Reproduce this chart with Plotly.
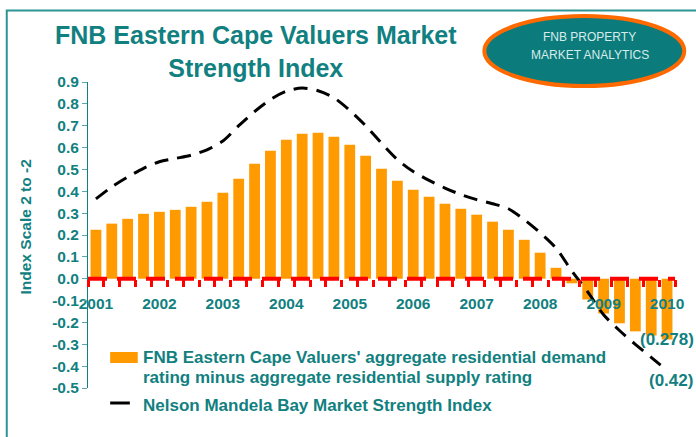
import plotly.graph_objects as go

# ---------------- data ----------------
years = ["2001", "2002", "2003", "2004", "2005", "2006", "2007", "2008", "2009", "2010"]
quarters = list(range(37))  # 2001Q1 .. 2010Q1
valuers_rating = [0.224, 0.252, 0.274, 0.297, 0.306, 0.315, 0.329, 0.352, 0.393, 0.457,
                  0.526, 0.585, 0.636, 0.663, 0.668, 0.650, 0.613, 0.563, 0.503, 0.448,
                  0.407, 0.375, 0.343, 0.320, 0.293, 0.261, 0.224, 0.178, 0.119, 0.050,
                  -0.021, -0.095, -0.159, -0.204, -0.241, -0.260, -0.278]
nmb_index = [0.365, 0.42, 0.465, 0.505, 0.535, 0.55, 0.565, 0.59, 0.63, 0.70,
             0.765, 0.82, 0.858, 0.872, 0.86, 0.828, 0.77, 0.70, 0.62, 0.545,
             0.49, 0.45, 0.415, 0.385, 0.362, 0.343, 0.32, 0.27, 0.21, 0.14,
             0.035, -0.06, -0.165, -0.237, -0.30, -0.36, -0.42]
yticks = [-0.5, -0.4, -0.3, -0.2, -0.1, 0.0, 0.1, 0.2, 0.3, 0.4, 0.5, 0.6, 0.7, 0.8, 0.9]
bar_name = "FNB Eastern Cape Valuers' aggregate residential demand rating minus aggregate residential supply rating"
line_name = "Nelson Mandela Bay Market Strength Index"

# ---------------- style ----------------
W, H = 696, 437
ML, MR, MT, MB = 87.5, 12.4, 82, 49
PW, PH = W - ML - MR, H - MT - MB
TEAL = "#118080"
ORANGE = "#ff9a00"
FONT = "Liberation Sans, Arial, sans-serif"


def px(x):
    return (x - ML) / PW


def py(y):
    return (H - MB - y) / PH


fig = go.Figure()
fig.add_trace(go.Bar(x=quarters, y=valuers_rating, name=bar_name, marker_color=ORANGE,
                     marker_line_width=0, width=0.68, showlegend=False))
fig.add_trace(go.Scatter(x=quarters, y=nmb_index, name=line_name, mode="lines",
                         line=dict(color="black", width=3, dash="14px,9px", shape="spline", smoothing=0.8),
                         showlegend=False))

shapes = []
# outer frame
shapes.append(dict(type="rect", xref="paper", yref="paper", x0=px(5), x1=px(730), y0=py(470), y1=py(10.5),
                   line=dict(color="#2f9494", width=2), fillcolor="rgba(0,0,0,0)", layer="below"))
# red zero axis
shapes.append(dict(type="line", xref="x", yref="y", x0=-0.5, x1=36.5, y0=0, y1=0,
                   line=dict(color="#ff0000", width=4, dash="19px,10px"), layer="above"))
# ellipse logo
shapes.append(dict(type="circle", xref="paper", yref="paper", x0=px(490), x1=px(693), y0=py(86), y1=py(16),
                   fillcolor="#0b7b7b", line=dict(color="#ff6a00", width=4)))
# legend swatches
shapes.append(dict(type="rect", xref="paper", yref="paper", x0=px(110), x1=px(138), y0=py(363), y1=py(352),
                   fillcolor=ORANGE, line=dict(width=0)))
shapes.append(dict(type="line", xref="paper", yref="paper", x0=px(110), x1=px(130), y0=py(403), y1=py(403),
                   line=dict(color="black", width=3)))

ann = []
ann.append(dict(text="<b>FNB Eastern Cape Valuers Market<br>Strength Index</b>", xref="paper", yref="paper",
                x=px(258), y=py(52), xanchor="center", yanchor="middle", showarrow=False,
                font=dict(family=FONT, size=25, color=TEAL)))
ann.append(dict(text="FNB PROPERTY", xref="paper", yref="paper", x=px(597), y=py(37),
                xanchor="center", yanchor="middle", showarrow=False,
                font=dict(family=FONT, size=12, color="#d6ecec")))
ann.append(dict(text="MARKET ANALYTICS", xref="paper", yref="paper", x=px(597), y=py(55),
                xanchor="center", yanchor="middle", showarrow=False,
                font=dict(family=FONT, size=12, color="#d6ecec")))
ann.append(dict(text="<b>Index Scale 2 to -2</b>", xref="paper", yref="paper", x=px(24), y=py(227),
                xanchor="center", yanchor="middle", textangle=-90, showarrow=False,
                font=dict(family=FONT, size=15.5, color=TEAL)))
ann.append(dict(text="<b>FNB Eastern Cape Valuers' aggregate residential demand</b>", xref="paper", yref="paper",
                x=px(141), y=py(357), xanchor="left", yanchor="middle", showarrow=False,
                font=dict(family=FONT, size=17, color=TEAL)))
ann.append(dict(text="<b>rating minus aggregate residential supply rating</b>", xref="paper", yref="paper",
                x=px(141), y=py(377), xanchor="left", yanchor="middle", showarrow=False,
                font=dict(family=FONT, size=17, color=TEAL)))
ann.append(dict(text="<b>" + line_name + "</b>", xref="paper", yref="paper",
                x=px(141), y=py(405), xanchor="left", yanchor="middle", showarrow=False,
                font=dict(family=FONT, size=17, color=TEAL)))
ann.append(dict(text="<b>(%.3f)</b>" % abs(valuers_rating[-1]), xref="paper", yref="paper",
                x=px(646), y=py(339), xanchor="left", yanchor="middle", showarrow=False,
                font=dict(family=FONT, size=17, color=TEAL)))
ann.append(dict(text="<b>(%.2f)</b>" % abs(nmb_index[-1]), xref="paper", yref="paper",
                x=px(655), y=py(380), xanchor="left", yanchor="middle", showarrow=False,
                font=dict(family=FONT, size=17, color=TEAL)))

zero_pos = (0 - yticks[0]) / (yticks[-1] - yticks[0])

fig.update_layout(
    width=W, height=H,
    margin=dict(l=ML, r=MR, t=MT, b=MB, pad=0),
    paper_bgcolor="white", plot_bgcolor="white",
    shapes=shapes, annotations=ann,
    bargap=0.32,
    xaxis=dict(range=[-0.5, 36.5], anchor="free", position=zero_pos, showline=False,
               showgrid=False, zeroline=False,
               tickmode="array", tickvals=[q for q in quarters if q % 4 == 0], ticktext=years,
               ticks="outside", ticklen=7, tickcolor="rgba(0,0,0,0)", tickwidth=3,
               ticklabelstandoff=4,
               tickfont=dict(family=FONT, size=15.5, color=TEAL, weight="bold"),
               minor=dict(tickmode="array", tickvals=[q - 0.5 for q in quarters] + [36.5],
                          ticks="outside", ticklen=7, tickwidth=3, tickcolor="#ff0000", showgrid=False)),
    yaxis=dict(range=[yticks[0], yticks[-1]], tickmode="array", tickvals=yticks,
               ticktext=["%.1f" % v for v in yticks], showline=True, linecolor=TEAL, linewidth=1,
               ticks="outside", ticklen=5, tickcolor="#5aa8a8", showgrid=False, zeroline=False,
               tickfont=dict(family=FONT, size=15.5, color=TEAL, weight="bold")),
)

fig.write_html("out.html", config={"displayModeBar": False},
               post_script="document.body.style.margin='0';document.body.style.overflow='hidden';")
